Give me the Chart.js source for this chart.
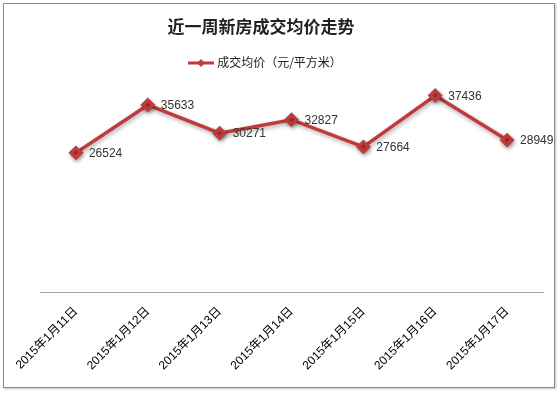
<!DOCTYPE html>
<html>
<head>
<meta charset="utf-8">
<script src="https://cdn.jsdelivr.net/npm/chart.js@4/dist/chart.umd.min.js"></script>
<style>
    html, body { margin: 0; padding: 0; background: #fff; }
    #frame {
        position: absolute; left: 3px; top: 3px;
        width: 550px; height: 383px;
        border: 1px solid #8a8a8a;
        box-shadow: 1px 1px 2px rgba(0,0,0,0.25);
        background: #fff;
    }
    canvas { display: block; }
    #title {
        position: absolute; left: 0; top: 10px; width: 514px;
        text-align: center;
        font: bold 17px "Noto Sans CJK SC", sans-serif;
        color: #222;
        line-height: 24px;
    }
    #legend {
        position: absolute; left: 0; top: 49px; width: 522px;
        text-align: center;
        font: 12px "Noto Sans CJK SC", sans-serif;
        color: #222;
        line-height: 18px;
    }
    #legend canvas { display: inline-block; vertical-align: middle; margin-right: 3px; margin-top: -2px; }
</style>
</head>
<body>
<div id="frame">
    <canvas id="myChart" width="550" height="383"></canvas>
    <div id="title"></div>
    <div id="legend"></div>
</div>
<script>
    // datos
    const categories = ['2015年1月11日', '2015年1月12日', '2015年1月13日', '2015年1月14日', '2015年1月15日', '2015年1月16日', '2015年1月17日'];
    const avgPrice = [26524, 35633, 30271, 32827, 27664, 37436, 28949];
    const seriesName = '成交均价（元/平方米）';
    const chartTitle = '近一周新房成交均价走势';

    const red = '#c0393b';
    const fontFamily = '"Liberation Sans", "Noto Sans CJK SC", sans-serif';

    // titulo y leyenda en HTML (centrados como en el original)
    document.getElementById('title').textContent = chartTitle;

    const legendIcon = document.createElement('canvas');
    legendIcon.width = 26;
    legendIcon.height = 10;
    const ic = legendIcon.getContext('2d');
    ic.strokeStyle = red;
    ic.lineWidth = 3;
    ic.beginPath();
    ic.moveTo(0, 5);
    ic.lineTo(26, 5);
    ic.stroke();
    ic.fillStyle = red;
    ic.beginPath();
    ic.moveTo(13, 1);
    ic.lineTo(17, 5);
    ic.lineTo(13, 9);
    ic.lineTo(9, 5);
    ic.closePath();
    ic.fill();
    const legendDiv = document.getElementById('legend');
    legendDiv.appendChild(legendIcon);
    legendDiv.appendChild(document.createTextNode(seriesName));

    // sombra de la linea (estilo Excel)
    const shadowPlugin = {
        id: 'lineShadow',
        beforeDatasetsDraw(chart) {
            const c = chart.ctx;
            c.save();
            c.shadowColor = 'rgba(0,0,0,0.35)';
            c.shadowBlur = 4;
            c.shadowOffsetX = 1;
            c.shadowOffsetY = 2;
        },
        afterDatasetsDraw(chart) {
            chart.ctx.restore();
        }
    };

    // etiquetas de valor a la derecha de cada punto
    const valueLabels = {
        id: 'valueLabels',
        afterDatasetsDraw(chart) {
            const c = chart.ctx;
            const meta = chart.getDatasetMeta(0);
            c.save();
            c.font = '12px ' + fontFamily;
            c.fillStyle = '#333';
            c.textAlign = 'left';
            c.textBaseline = 'middle';
            meta.data.forEach((pt, i) => {
                c.fillText(String(avgPrice[i]), pt.x + 13, pt.y + 1);
            });
            c.restore();
        }
    };

    const ctx = document.getElementById('myChart');

    new Chart(ctx, {
        type: 'line',
        data: {
            labels: categories,
            datasets: [{
                label: seriesName,
                data: avgPrice,
                borderColor: red,
                backgroundColor: red,
                borderWidth: 3.5,
                pointStyle: 'rectRot',
                pointRadius: 5,
                pointHoverRadius: 5,
                pointBackgroundColor: red,
                pointBorderColor: red,
                tension: 0
            }]
        },
        options: {
            responsive: false,
            animation: false,
            events: [],
            layout: {
                padding: { left: 36, right: 11, top: 78, bottom: 10 }
            },
            scales: {
                x: {
                    offset: true,
                    grid: { display: false },
                    border: { display: true, color: '#a6a6a6', width: 1 },
                    ticks: {
                        minRotation: 45,
                        maxRotation: 45,
                        color: '#000',
                        padding: 4,
                        font: { size: 12, family: fontFamily }
                    }
                },
                y: {
                    display: false,
                    min: 0,
                    max: 40000
                }
            },
            plugins: {
                title: { display: false },
                legend: { display: false },
                tooltip: { enabled: false }
            }
        },
        plugins: [shadowPlugin, valueLabels]
    });
</script>
</body>
</html>
